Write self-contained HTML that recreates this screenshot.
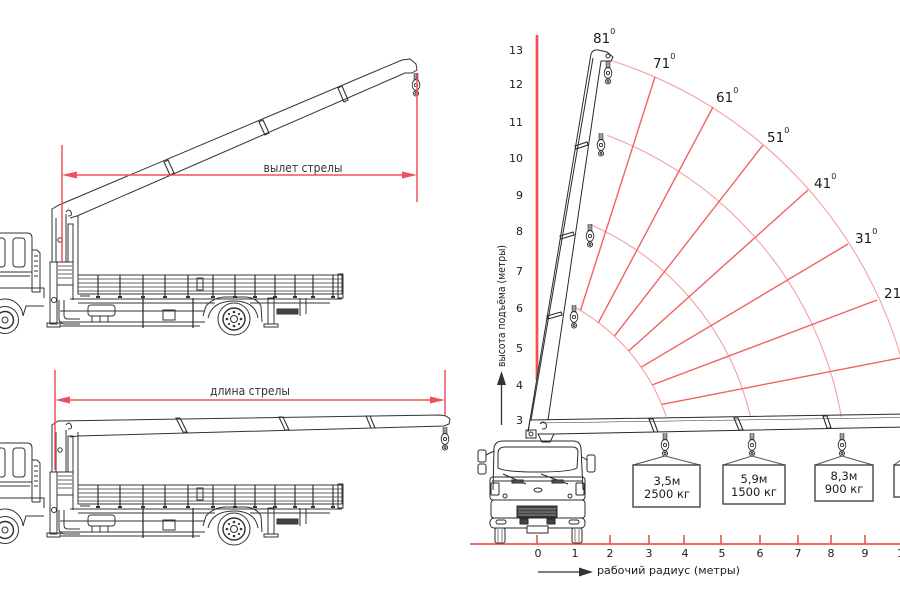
<!DOCTYPE html>
<html><head><meta charset="utf-8"><style>
html,body{margin:0;padding:0;background:#fff;}
svg{display:block;}
text{font-family:"DejaVu Sans","Liberation Sans",sans-serif;fill:#1c1c1c;}
</style></head><body>
<svg width="900" height="600" viewBox="0 0 900 600" xmlns="http://www.w3.org/2000/svg">
<defs>
 <g id="hk" fill="none" stroke="#2a2a2a" stroke-width="0.9">
  <path d="M-1.8,0 V7 M0,0 V7 M1.8,0 V7"/>
  <ellipse cx="0" cy="12" rx="3.8" ry="5.5" fill="#fff"/>
  <circle cx="0" cy="12" r="1.6"/>
  <circle cx="0" cy="20.5" r="2.6" fill="#fff"/>
  <circle cx="0" cy="20.5" r="1"/>
 </g>
 <g id="tb" fill="none" stroke="#333" stroke-width="1">
  <!-- cab -->
  <path d="M-3,233 L27,233 Q32,233 32,238 L32,292"/>
  <path d="M32,250 L37,250 L40,253 L40,292 L32,292"/>
  <path d="M34,256 H38 M34,261 H38 M34,266 H38 M34,271 H38 M34,276 H38"/>
  <rect x="13" y="238" width="12" height="29" rx="3"/>
  <rect x="-4" y="238" width="9" height="29" rx="3"/>
  <path d="M-3,272 H32 M-3,276 H30"/>
  <path d="M-3,288 H44 V298"/>
  <path d="M-13,318 A18,18 0 0,1 23,316 L26,306 L44,306"/>
  <circle cx="5" cy="320" r="13.5"/>
  <circle cx="5" cy="320" r="8.5" stroke-width="1.5"/>
  <circle cx="5" cy="320" r="3"/>
  <!-- flatbed -->
  <rect x="78" y="275" width="264" height="19"/>
  <path d="M78,279 H342 M78,283 H342 M78,287 H342 M78,291 H342" stroke-width="0.7"/>
  <path d="M98,275 V296 M120,275 V296 M143,275 V296 M165,275 V296 M188,275 V296 M213,275 V296 M235,275 V296 M255,275 V296 M275,275 V296 M295,275 V296 M313,275 V296 M333,275 V296" stroke-width="1.2"/>
  <path d="M96,297 h4 M118,297 h4 M141,297 h4 M163,297 h4 M186,297 h4 M211,297 h4 M233,297 h4 M253,297 h4 M273,297 h4 M293,297 h4 M311,297 h4 M331,297 h4" stroke-width="2"/>
  <rect x="197" y="278" width="6" height="12"/>
  <rect x="338" y="274" width="5" height="24"/>
  <!-- chassis -->
  <path d="M70,299 H342 M78,303 H215 M250,303 H330"/>
  <path d="M60,311 H205 M60,322 H205 M60,326 H200"/>
  <rect x="88" y="305" width="27" height="11" rx="3"/>
  <path d="M92,316 v6 M100,316 v6 M108,316 v6"/>
  <path d="M143,298 V328 M193,298 V328" stroke-width="1.3"/>
  <rect x="163" y="310" width="12" height="10"/>
  <!-- fender + rear wheel -->
  <path d="M203,316 L206,306 Q214,297 226,297 L244,297 Q256,297 261,306 L262,322"/>
  <path d="M208,318 Q212,301 234,301 Q255,301 258,318"/>
  <circle cx="234" cy="319" r="16"/>
  <circle cx="234" cy="319" r="11" stroke-width="1.4"/>
  <circle cx="234" cy="319" r="3.5"/>
  <g fill="#333" stroke="none">
   <circle cx="234" cy="312" r="1.3"/><circle cx="241" cy="319" r="1.3"/><circle cx="234" cy="326" r="1.3"/><circle cx="227" cy="319" r="1.3"/>
   <circle cx="239" cy="314" r="1.1"/><circle cx="239" cy="324" r="1.1"/><circle cx="229" cy="324" r="1.1"/><circle cx="229" cy="314" r="1.1"/>
  </g>
  <!-- rear outrigger -->
  <rect x="268" y="298" width="6" height="26"/>
  <rect x="264" y="324" width="14" height="3"/>
  <rect x="277" y="309" width="21" height="5" fill="#444"/>
  <path d="M300,298 V316 M306,298 V314"/>
  <!-- crane base -->
  <rect x="50" y="262" width="7" height="62"/>
  <rect x="47" y="323" width="13" height="4"/>
  <rect x="57" y="262" width="16" height="23"/>
  <path d="M58,266 H72 M58,270 H72 M58,274 H72 M58,278 H72" stroke-width="0.7"/>
  <path d="M78,262 V292 M73,285 V300"/>
  <path d="M59,300 L59,318 Q59,324 65,324 L80,324"/>
  <path d="M64,300 L64,315 Q64,319 68,319 L80,319"/>
  <circle cx="54" cy="300" r="2.5"/>
  <path d="M80,296 L90,296" />
 </g>
</defs>

<!-- ============ LEFT TOP ============ -->
<use href="#tb"/>
<g fill="none" stroke="#333" stroke-width="1">
 <path d="M52,212 V262 M56,218 V262 M66,214 V262 M78,216 V262"/>
 <rect x="68" y="224" width="5" height="38"/>
 <circle cx="60" cy="240" r="2.2"/>
 <path d="M52,214 L52,209 L59,205 L402,60 L410,59 L416,64 L417,70 L412,73 L405,73 L77,216 L70,218"/>
 <path d="M66,212 q3,-4 5,0 q2,4 -3,4"/>
 <path d="M164,162 L168,160 L174,173 L170,175 Z M259,122 L263,120 L269,133 L265,135 Z M338,88 L342,86 L348,100 L344,102 Z" stroke-width="1.1"/>
</g>
<use href="#hk" transform="translate(416,73)"/>
<g stroke="#f0505a" stroke-width="1.5" fill="none">
 <line x1="62" y1="145" x2="62" y2="263"/>
 <line x1="417" y1="73" x2="417" y2="202"/>
 <line x1="70" y1="175" x2="409" y2="175"/>
</g>
<polygon points="62,175 77,171.5 77,178.5" fill="#f0505a"/>
<polygon points="417,175 402,171.5 402,178.5" fill="#f0505a"/>
<text x="303" y="172" font-size="12" text-anchor="middle" textLength="79" lengthAdjust="spacingAndGlyphs" style="fill:#333">вылет стрелы</text>

<!-- ============ LEFT BOTTOM ============ -->
<use href="#tb" transform="translate(0,210)"/>
<g fill="none" stroke="#333" stroke-width="1">
 <path d="M52,428 V472 M56,432 V472 M66,430 V472 M78,432 V472"/>
 <rect x="68" y="436" width="5" height="36"/>
 <circle cx="60" cy="450" r="2.2"/>
 <path d="M52,432 L52,425 L58,421 L440,415 L446,416 L450,419 L449,424 L444,426 L78,436 L70,437"/>
 <path d="M66,425 q3,-4 5,0 q2,4 -3,4"/>
 <path d="M176,418 L180,418 L187,432 L183,432 Z M279,417 L283,417 L289,430 L285,430 Z M366,416 L370,416 L375,428 L371,428 Z" stroke-width="1.1"/>
</g>
<use href="#hk" transform="translate(445,427)"/>
<g stroke="#f0505a" stroke-width="1.5" fill="none">
 <line x1="55" y1="370" x2="55" y2="470"/>
 <line x1="445" y1="370" x2="445" y2="415"/>
 <line x1="63" y1="400" x2="437" y2="400"/>
</g>
<polygon points="55,400 70,396.5 70,403.5" fill="#f0505a"/>
<polygon points="445,400 430,396.5 430,403.5" fill="#f0505a"/>
<text x="250" y="395" font-size="12" text-anchor="middle" textLength="80" lengthAdjust="spacingAndGlyphs" style="fill:#333">длина стрелы</text>

<!-- ============ RIGHT CHART ============ -->
<!-- arcs -->
<g fill="none" stroke="#f5a0a0" stroke-width="1.1">
 <path d="M576.3,308 A199,199 0 0,1 666.3,416.6"/>
 <path d="M589.7,224.2 A280,280 0 0,1 750.6,417.1"/>
 <path d="M607.2,135.4 A369,369 0 0,1 841.4,416.9"/>
 <path d="M610.6,60.4 A441,441 0 0,1 917,442.6"/>
</g>
<g stroke="#f06262" stroke-width="1.4">
 <line x1="580.5" y1="310.4" x2="655" y2="77"/>
 <line x1="598.4" y1="322.6" x2="713" y2="107"/>
 <line x1="614.4" y1="336.1" x2="763" y2="145"/>
 <line x1="628.6" y1="351" x2="808" y2="190"/>
 <line x1="641.2" y1="367.2" x2="848" y2="244"/>
 <line x1="652.3" y1="384.9" x2="877" y2="300"/>
 <line x1="661.6" y1="404.4" x2="901.4" y2="357.7"/>
</g>
<!-- axes -->
<line x1="537" y1="35" x2="537" y2="380" stroke="#f05252" stroke-width="2.7"/>
<line x1="470" y1="544" x2="900" y2="544" stroke="#f05252" stroke-width="1.8"/>
<g stroke="#f05252" stroke-width="1.6">
 <path d="M537,535 V544 M610,535 V544 M649,535 V544 M684,535 V544 M721,535 V544 M760,535 V544 M798,535 V544 M831,535 V544 M865,535 V544"/>
</g>

<!-- degree labels -->
<g font-size="13.5">
 <text x="593" y="43">81<tspan dy="-9" font-size="8">0</tspan></text>
 <text x="653" y="68">71<tspan dy="-9" font-size="8">0</tspan></text>
 <text x="716" y="102">61<tspan dy="-9" font-size="8">0</tspan></text>
 <text x="767" y="142">51<tspan dy="-9" font-size="8">0</tspan></text>
 <text x="814" y="188">41<tspan dy="-9" font-size="8">0</tspan></text>
 <text x="855" y="243">31<tspan dy="-9" font-size="8">0</tspan></text>
 <text x="884" y="298">21<tspan dy="-9" font-size="8">0</tspan></text>
</g>

<!-- y numbers -->
<g font-size="11" text-anchor="end">
 <text x="523" y="54">13</text><text x="523" y="88">12</text><text x="523" y="126">11</text>
 <text x="523" y="162">10</text><text x="523" y="199">9</text><text x="523" y="235">8</text>
 <text x="523" y="275">7</text><text x="523" y="312">6</text><text x="523" y="352">5</text>
 <text x="523" y="389">4</text><text x="523" y="424">3</text>
</g>
<!-- x numbers -->
<g font-size="11" text-anchor="middle">
 <text x="538" y="557">0</text><text x="575" y="557">1</text><text x="610" y="557">2</text>
 <text x="649" y="557">3</text><text x="685" y="557">4</text><text x="722" y="557">5</text>
 <text x="760" y="557">6</text><text x="798" y="557">7</text><text x="831" y="557">8</text>
 <text x="865" y="557">9</text><text x="904" y="557">10</text>
</g>

<!-- axis titles -->
<text transform="translate(505,306) rotate(-90)" font-size="11" text-anchor="middle" textLength="122" lengthAdjust="spacingAndGlyphs">высота подъёма (метры)</text>
<line x1="501.5" y1="425" x2="501.5" y2="382" stroke="#333" stroke-width="1.3"/>
<polygon points="501.5,371 497,385 506,385" fill="#333"/>
<line x1="538" y1="572" x2="580" y2="572" stroke="#333" stroke-width="1.3"/>
<polygon points="593,572 579,567.5 579,576.5" fill="#333"/>
<text x="668.5" y="574" font-size="11" text-anchor="middle" textLength="143" lengthAdjust="spacingAndGlyphs">рабочий радиус (метры)</text>

<!-- vertical boom -->
<g fill="none" stroke="#2a2a2a" stroke-width="1">
 <path d="M528,432 L591,54 Q593,49 598,50 L607,52 L613,57 L611,61 L601,61 L548,420" fill="#fff"/>
 <path d="M531,420 L593,58"/>
 <circle cx="608" cy="56" r="2"/>
 <path d="M575,146 L587,142 L588,145 L576,149 Z M560,236 L573,232 L574,235 L561,239 Z M547,316 L561,312 L562,315 L548,319 Z" stroke-width="1.1"/>
</g>
<use href="#hk" transform="translate(608,61)"/>
<use href="#hk" transform="translate(601,133)"/>
<use href="#hk" transform="translate(590,224)"/>
<use href="#hk" transform="translate(574,305)"/>

<!-- horizontal boom -->
<g fill="none" stroke="#2a2a2a" stroke-width="1">
 <path d="M905,414 L530,420 L528,432 M553,434 L905,427"/>
 <path d="M540,423 L905,417.5" stroke-width="0.5"/>
 <path d="M649,419 L653,419 L658,432 L654,432 Z M734,418 L738,418 L743,430 L739,430 Z M823,416 L827,416 L831,428 L827,428 Z" stroke-width="1.1"/>
 <!-- pivot -->
 <rect x="526" y="430" width="10" height="8"/>
 <path d="M538,434 L554,434 L550,442 L542,442 Z"/>
 <path d="M540,424 q3,-4 6,0 q2,5 -4,5"/>
 <circle cx="531" cy="434" r="2"/>
</g>
<use href="#hk" transform="translate(665,433)"/>
<use href="#hk" transform="translate(752,433)"/>
<use href="#hk" transform="translate(842,433)"/>

<!-- loads -->
<g fill="none" stroke="#555" stroke-width="1">
 <path d="M633,465 L665,456 L700,465 M723,465 L752,456 L785,465 M815,465 L842,456 L873,465 M894,465 L905,457"/>
</g>
<g fill="#fff" stroke="#444" stroke-width="1.4">
 <rect x="633" y="465" width="67" height="42"/>
 <rect x="723" y="465" width="62" height="39"/>
 <rect x="815" y="465" width="58" height="36"/>
 <rect x="894" y="465" width="30" height="32"/>
</g>
<g font-size="11.5" text-anchor="middle">
 <text x="667" y="485">3,5м</text><text x="667" y="498">2500 кг</text>
 <text x="754" y="483">5,9м</text><text x="754" y="496">1500 кг</text>
 <text x="844" y="480">8,3м</text><text x="844" y="493">900 кг</text>
</g>

<!-- truck front -->
<g fill="none" stroke="#2a2a2a" stroke-width="1">
 <rect x="478" y="450" width="8" height="12" rx="2"/>
 <rect x="478" y="464" width="8" height="10" rx="2"/>
 <rect x="587" y="455" width="8" height="17" rx="2"/>
 <path d="M486,455 L494,451 M587,460 L582,457"/>
 <path d="M493,490 L494,448 Q495,441 503,441 L573,441 Q580,441 581,448 L583,490"/>
 <path d="M498,452 Q499,447 505,447 L572,447 Q578,447 578,452 L577,468 Q570,472 538,472 Q505,472 498,468 Z"/>
 <path d="M503,474 L526,484 M541,474 L568,484" stroke-width="1.1"/>
 <rect x="490" y="477" width="95" height="23" rx="3"/>
 <line x1="492" y1="481" x2="583" y2="481"/>
 <rect x="491" y="483" width="8" height="12" rx="1"/>
 <rect x="576" y="483" width="8" height="12" rx="1"/>
 <circle cx="505" cy="496" r="2"/><circle cx="570" cy="496" r="2"/>
 <ellipse cx="538" cy="490" rx="4" ry="2"/>
 <rect x="512" y="480" width="11" height="3" fill="#555"/>
 <rect x="552" y="480" width="11" height="3" fill="#555"/>
 <rect x="491" y="500" width="94" height="18" rx="3"/>
 <rect x="517" y="506" width="40" height="11" fill="#444"/>
 <path d="M518,509 H556 M518,512 H556 M518,515 H556" stroke="#ccc" stroke-width="0.6"/>
 <rect x="490" y="518" width="95" height="10" rx="4"/>
 <rect x="496" y="520" width="10" height="4" rx="2"/>
 <rect x="569" y="520" width="10" height="4" rx="2"/>
 <rect x="520" y="519" width="8" height="5" fill="#444"/>
 <rect x="547" y="519" width="8" height="5" fill="#444"/>
 <rect x="527" y="526" width="21" height="7" fill="#fff"/>
 <rect x="495" y="528" width="10" height="15" rx="2"/>
 <rect x="572" y="528" width="10" height="15" rx="2"/>
 <path d="M498,529 V542 M502,529 V542 M575,529 V542 M579,529 V542" stroke-width="0.6"/>
</g>
</svg>
</body></html>
